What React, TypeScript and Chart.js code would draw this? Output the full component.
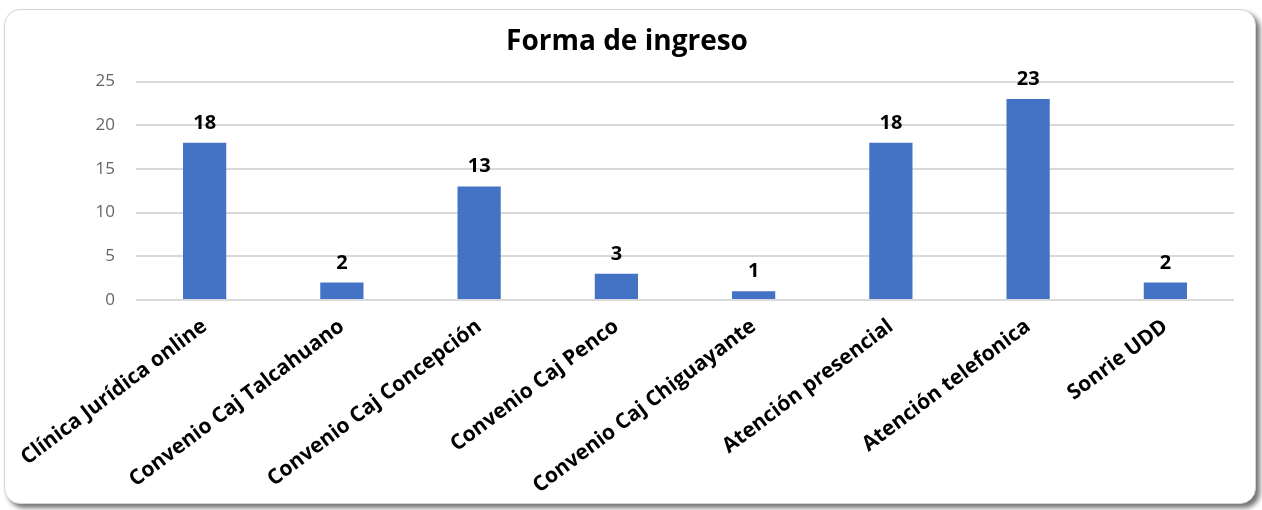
import React, { useEffect, useRef } from 'react';
import { Chart, registerables } from 'chart.js';

Chart.register(...registerables);

const chartTitle = 'Forma de ingreso';
const categories = [
  'Clínica Jurídica online',
  'Convenio Caj Talcahuano',
  'Convenio Caj Concepción',
  'Convenio Caj Penco',
  'Convenio Caj Chiguayante',
  'Atención presencial',
  'Atención telefonica',
  'Sonrie UDD',
];
const values = [18, 2, 13, 3, 1, 18, 23, 2];
const yMin = 0;
const yMax = 25;
const yStep = 5;

const FONT = "'Open Sans', 'Noto Sans', sans-serif";

const valueLabels = {
  id: 'valueLabels',
  afterDatasetsDraw(chart: any) {
    const ctx = chart.ctx;
    ctx.save();
    ctx.font = `bold 20px ${FONT}`;
    ctx.fillStyle = '#000000';
    ctx.textAlign = 'center';
    ctx.textBaseline = 'alphabetic';
    chart.data.datasets.forEach((ds: any, di: number) => {
      const meta = chart.getDatasetMeta(di);
      meta.data.forEach((bar: any, i: number) => {
        ctx.fillText(String(ds.data[i]), bar.x, bar.y - 14);
      });
    });
    ctx.restore();
  },
};

export default function App() {
  const canvasRef = useRef<HTMLCanvasElement | null>(null);

  useEffect(() => {
    document.body.style.margin = '0';
    const canvas = canvasRef.current;
    if (!canvas) return;
    const chart = new Chart(canvas, {
      type: 'bar',
      data: {
        labels: categories,
        datasets: [
          {
            label: chartTitle,
            data: values,
            backgroundColor: '#4472C4',
            borderWidth: 0,
            categoryPercentage: 1,
            barPercentage: 0.315,
          },
        ],
      },
      options: {
        animation: false,
        responsive: false,
        maintainAspectRatio: false,
        devicePixelRatio: 1,
        layout: { padding: { left: 20, right: 28, top: 0, bottom: 0 } },
        plugins: {
          legend: { display: false },
          tooltip: { enabled: false },
          title: {
            display: true,
            text: chartTitle,
            color: '#000000',
            font: { family: FONT, size: 28, weight: 'bold' },
            padding: { top: 25, bottom: 23 },
          },
        },
        scales: {
          x: {
            grid: { display: false, drawTicks: false },
            border: { display: false },
            ticks: {
              autoSkip: false,
              minRotation: 37,
              maxRotation: 37,
              color: '#000000',
              padding: 14,
              font: { family: FONT, size: 21, weight: 'bold' },
            },
            afterFit(scale: any) {
              scale.height = 210;
            },
          },
          y: {
            min: yMin,
            max: yMax,
            border: { display: false },
            grid: { color: '#d9d9d9', lineWidth: 2, drawTicks: false },
            ticks: {
              stepSize: yStep,
              color: '#666666',
              padding: 21,
              font: { family: FONT, size: 17 },
            },
            afterFit(scale: any) {
              scale.width = 116;
            },
          },
        },
      },
      plugins: [valueLabels],
    });
    return () => chart.destroy();
  }, []);

  return (
    <div style={{ position: 'absolute', left: 0, top: 0, width: 1262, height: 510, background: '#ffffff' }}>
      <div
        style={{
          position: 'absolute',
          left: 4,
          top: 9,
          width: 1250,
          height: 493,
          border: '1px solid #d4d4d4',
          borderRadius: 16,
          background: '#ffffff',
          boxShadow: '4px 4px 5px rgba(0,0,0,0.55)',
        }}
      />
      <canvas
        ref={canvasRef}
        width={1262}
        height={510}
        style={{ position: 'absolute', left: 0, top: 0, width: 1262, height: 510 }}
      />
    </div>
  );
}
